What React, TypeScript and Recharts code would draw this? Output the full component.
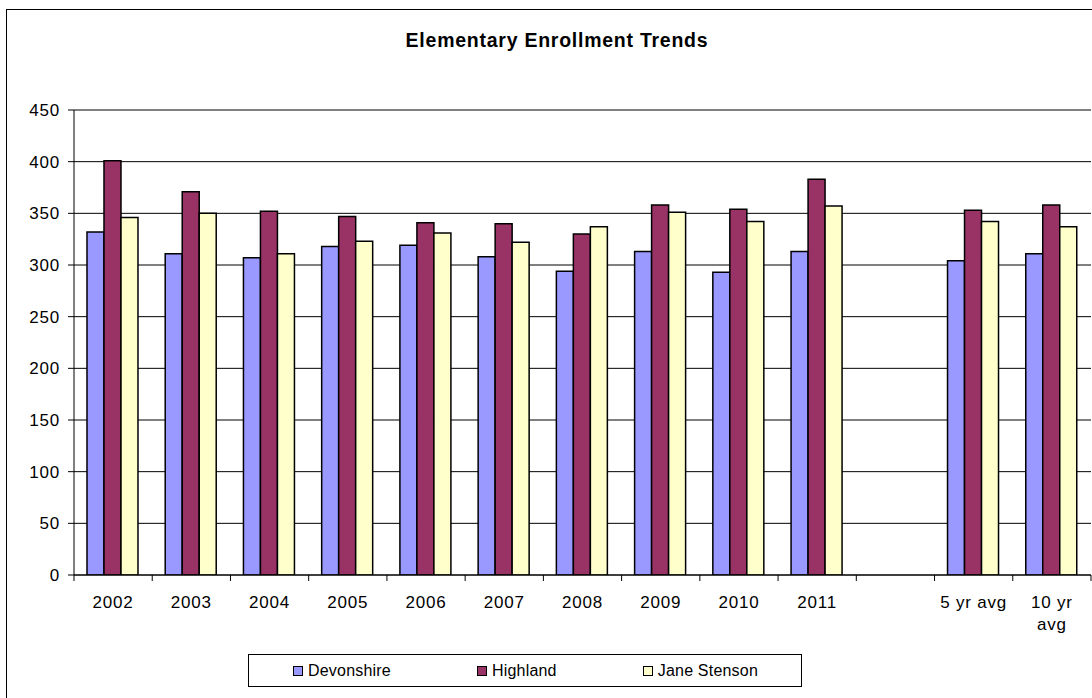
import React from 'react';
import { BarChart, Bar, XAxis, YAxis, CartesianGrid } from 'recharts';

const categories = ['2002', '2003', '2004', '2005', '2006', '2007', '2008', '2009', '2010', '2011', '', '5 yr avg', '10 yr avg'];
const devonshire = [332, 311, 307, 318, 319, 308, 294, 313, 293, 313, null, 304, 311];
const highland = [401, 371, 352, 347, 341, 340, 330, 358, 354, 383, null, 353, 358];
const janeStenson = [346, 350, 311, 323, 331, 322, 337, 351, 342, 357, null, 342, 337];
const yTicks = [0, 50, 100, 150, 200, 250, 300, 350, 400, 450];

const series = [
  { key: 'devonshire', name: 'Devonshire', color: '#9999FF', values: devonshire },
  { key: 'highland', name: 'Highland', color: '#993366', values: highland },
  { key: 'janeStenson', name: 'Jane Stenson', color: '#FFFFCC', values: janeStenson },
];

const data = categories.map((name, i) => {
  const row: Record<string, string | number | null> = { name };
  series.forEach((s) => {
    row[s.key] = s.values[i];
  });
  return row;
});

const FONT = 'Arial, "Liberation Sans", sans-serif';
const WIDTH = 1092;
const HEIGHT = 698;
const PLOT_LEFT = 74;
const PLOT_RIGHT = 1091;
const PLOT_TOP = 110;
const PLOT_BOTTOM = 575;
const BAND = (PLOT_RIGHT - PLOT_LEFT) / categories.length;

// splits long labels like "10 yr avg" onto two lines, the way Excel wraps them
const wrapLabel = (label: string): string[] => {
  if (label.length <= 8) return [label];
  const cut = label.lastIndexOf(' ');
  return [label.slice(0, cut), label.slice(cut + 1)];
};

const CategoryTick = (props: any) => {
  const { x, y, payload, index } = props;
  const lines = wrapLabel(String(payload.value));
  return (
    <g>
      <line x1={x - BAND / 2} x2={x - BAND / 2} y1={y} y2={y + 6} stroke="#000" />
      {index === categories.length - 1 && (
        <line x1={x + BAND / 2} x2={x + BAND / 2} y1={y} y2={y + 6} stroke="#000" />
      )}
      <text x={x} y={y + 33} textAnchor="middle" fill="#000" fontSize={17} fontFamily={FONT} letterSpacing={0.8}>
        {lines.map((l, i) => (
          <tspan key={i} x={x} dy={i === 0 ? 0 : 22}>
            {l}
          </tspan>
        ))}
      </text>
    </g>
  );
};

const App: React.FC = () => {
  return (
    <div style={{ position: 'relative', width: WIDTH, height: HEIGHT, overflow: 'hidden', background: '#fff' }}>
      <style>{'body{margin:0}'}</style>
      <div
        style={{
          position: 'absolute',
          left: 6,
          top: 9,
          width: 1102,
          height: 700,
          border: '1px solid #000',
        }}
      />
      <div
        style={{
          position: 'absolute',
          left: 6,
          top: 28,
          width: 1102,
          textAlign: 'center',
          fontFamily: FONT,
          fontWeight: 'bold',
          fontSize: 19.5,
          letterSpacing: 0.75,
          lineHeight: '24px',
          color: '#000',
        }}
      >
        Elementary Enrollment Trends
      </div>
      <div style={{ position: 'absolute', left: 0, top: 0 }}>
        <BarChart
          width={WIDTH}
          height={HEIGHT}
          data={data}
          margin={{ top: PLOT_TOP, right: WIDTH - PLOT_RIGHT, left: 0, bottom: 0 }}
          barCategoryGap="16.6%"
          barGap={0}
        >
          <CartesianGrid vertical={false} stroke="#000" strokeWidth={1} />
          <XAxis
            dataKey="name"
            height={HEIGHT - PLOT_BOTTOM}
            interval={0}
            tickSize={0}
            tickMargin={0}
            tickLine={false}
            axisLine={{ stroke: '#000' }}
            tick={<CategoryTick />}
          />
          <YAxis
            width={PLOT_LEFT}
            domain={[0, 450]}
            ticks={yTicks}
            allowDataOverflow
            tickSize={6}
            tickMargin={8}
            axisLine={{ stroke: '#000' }}
            tickLine={{ stroke: '#000' }}
            tick={{ fill: '#000', fontSize: 17, fontFamily: FONT, letterSpacing: 0.8 }}
          />
          {series.map((s) => (
            <Bar
              key={s.key}
              dataKey={s.key}
              name={s.name}
              fill={s.color}
              stroke="#000"
              strokeWidth={1.5}
              isAnimationActive={false}
            />
          ))}
        </BarChart>
      </div>
      <div
        style={{
          position: 'absolute',
          left: 248,
          top: 654,
          width: 554,
          height: 33,
          boxSizing: 'border-box',
          border: '1px solid #000',
          display: 'flex',
          alignItems: 'center',
          justifyContent: 'space-between',
          padding: '0 43px 0 44px',
          fontFamily: FONT,
          fontSize: 16,
          letterSpacing: 0.2,
          color: '#000',
        }}
      >
        {series.map((s) => (
          <div key={s.key} style={{ display: 'flex', alignItems: 'center' }}>
            <span
              style={{
                display: 'inline-block',
                width: 8,
                height: 8,
                background: s.color,
                border: '1px solid #000',
                marginRight: 5,
              }}
            />
            <span>{s.name}</span>
          </div>
        ))}
      </div>
    </div>
  );
};

export default App;
